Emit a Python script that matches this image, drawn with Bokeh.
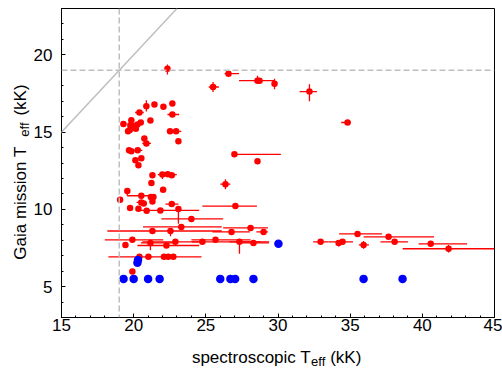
import math
from bokeh.plotting import figure
from bokeh.layouts import row, column
from bokeh.models import SingleIntervalTicker, Span, Slope, Range1d, ColumnDataSource
from bokeh.core.properties import value
from bokeh.embed import file_html
from bokeh.resources import INLINE

# ---- red points (spectroscopic Teff, Gaia Teff) with error-bar bounds, kK ----
red_x = [22.34, 26.57, 28.58, 28.72, 29.76, 25.50, 32.18, 34.82,
         20.88, 21.44, 22.06, 22.68, 22.68, 20.40, 19.84, 19.29, 21.16, 20.49,
         20.26, 20.05, 19.91, 19.73, 19.61, 19.77, 20.15, 22.52, 22.94, 20.74,
         20.88, 23.10, 19.68, 19.84, 20.28, 20.12, 20.53, 20.33, 26.98, 28.58,
         21.30, 21.99, 22.36, 22.64, 21.23, 22.04, 26.36, 19.56, 20.53, 21.19,
         21.37, 19.06, 20.53, 20.70, 21.30, 22.64, 19.75, 20.33, 20.90, 21.85,
         23.10, 24.00, 27.05, 23.30, 28.10, 21.30, 22.55, 26.78, 29.00, 19.43,
         19.91, 21.16, 22.27, 22.89, 24.76, 25.67, 27.33, 28.30, 19.91, 20.40,
         21.02, 22.10, 22.40, 22.75, 32.95, 34.20, 34.47, 35.51, 37.66, 38.08,
         35.93, 40.58, 41.82]
red_y = [19.10, 18.78, 18.33, 18.33, 18.13, 17.92, 17.62, 15.62,
         16.67, 16.78, 16.64, 16.85, 16.14, 16.27, 15.77, 15.52, 15.75, 15.62,
         15.50, 15.39, 15.28, 15.13, 15.05, 15.45, 15.22, 15.05, 15.05, 14.59,
         14.27, 14.40, 13.82, 13.76, 13.82, 13.18, 13.30, 12.86, 13.56, 13.11,
         12.20, 12.25, 12.27, 12.20, 11.70, 11.27, 11.63, 11.18, 10.88, 10.80,
         10.80, 10.62, 10.45, 10.38, 10.51, 10.34, 10.09, 10.04, 9.91, 9.93,
         10.02, 9.38, 10.21, 8.86, 8.80, 8.60, 8.60, 8.54, 8.54, 7.70,
         8.03, 7.83, 7.66, 7.90, 7.90, 8.03, 7.90, 7.83, 5.97, 6.93,
         6.93, 6.93, 6.93, 6.93, 7.90, 7.83, 7.90, 8.41, 8.22, 7.90,
         7.70, 7.77, 7.45]
red_x_lo = [22.20, 26.30, 28.40, 27.30, 29.76, 25.20, 31.50, 34.38,
            20.88, 21.30, 21.90, 22.55, 22.34, 20.10, 19.70, 19.10, 21.00, 20.30,
            20.12, 19.92, 19.78, 19.60, 19.48, 19.64, 20.02, 22.38, 22.70, 20.60,
            20.60, 22.95, 19.55, 19.70, 19.50, 19.98, 20.35, 20.20, 26.98, 28.45,
            21.15, 21.67, 22.22, 22.50, 21.05, 21.85, 26.00, 19.56, 19.56, 21.05,
            21.23, 18.90, 20.20, 20.56, 21.15, 22.20, 19.62, 20.20, 20.76, 20.15,
            23.10, 21.92, 24.76, 20.65, 26.20, 18.18, 22.55, 25.46, 28.50, 19.43,
            18.00, 20.50, 20.26, 20.60, 24.03, 24.00, 26.64, 27.30, 19.91, 20.40,
            18.25, 22.10, 22.40, 22.75, 32.44, 34.05, 33.50, 34.24, 35.93, 37.10,
            35.60, 39.74, 38.64]
red_x_hi = [22.48, 27.30, 28.75, 29.76, 29.76, 25.90, 32.70, 35.05,
            20.88, 21.58, 22.20, 22.80, 23.15, 20.70, 19.98, 19.50, 21.30, 20.70,
            20.40, 20.18, 20.04, 19.86, 19.74, 19.90, 20.28, 22.66, 23.30, 20.88,
            21.20, 23.25, 19.81, 19.98, 20.60, 20.26, 20.70, 20.46, 30.20, 28.72,
            21.45, 22.99, 22.50, 22.78, 21.40, 22.25, 26.70, 19.56, 21.40, 21.33,
            21.51, 19.20, 20.80, 20.84, 21.45, 23.10, 19.88, 20.46, 21.04, 24.54,
            23.10, 26.20, 28.54, 26.10, 29.30, 26.10, 22.55, 28.05, 29.30, 19.43,
            22.05, 22.80, 24.54, 24.50, 28.80, 28.10, 29.39, 29.37, 19.91, 20.40,
            24.70, 22.10, 22.40, 22.75, 33.50, 34.35, 35.20, 37.20, 40.81, 39.00,
            36.30, 43.10, 45.00]
red_y_lo = [18.73, 18.78, 18.13, 18.33, 17.77, 17.60, 17.00, 15.62,
            16.33, 16.70, 16.56, 16.77, 16.14, 16.27, 15.70, 15.52, 15.67, 15.62,
            15.50, 15.39, 15.28, 15.13, 15.05, 15.45, 15.22, 14.97, 15.05, 14.51,
            14.27, 14.32, 13.82, 13.76, 13.82, 13.10, 13.30, 12.78, 13.56, 13.00,
            12.12, 11.97, 12.19, 12.12, 11.62, 11.19, 11.30, 10.88, 10.88, 10.72,
            10.72, 10.62, 10.45, 10.30, 10.43, 10.34, 10.01, 9.96, 9.83, 9.80,
            9.06, 9.38, 10.21, 8.86, 8.80, 8.60, 8.26, 8.54, 8.54, 7.70,
            8.03, 7.36, 7.66, 7.90, 7.90, 8.03, 7.12, 7.83, 5.97, 6.93,
            6.93, 6.93, 6.93, 6.93, 7.90, 7.60, 7.90, 8.41, 8.22, 7.90,
            7.45, 7.77, 7.20]
red_y_hi = [19.38, 18.78, 18.65, 18.33, 18.46, 18.24, 18.10, 15.62,
            17.06, 16.86, 16.72, 16.93, 16.14, 16.27, 15.84, 15.52, 15.83, 15.62,
            15.50, 15.39, 15.28, 15.13, 15.05, 15.45, 15.22, 15.13, 15.05, 14.67,
            14.27, 14.48, 13.82, 13.76, 13.82, 13.26, 13.30, 12.94, 13.56, 13.20,
            12.28, 12.44, 12.35, 12.28, 11.78, 11.35, 11.95, 11.18, 10.88, 10.88,
            10.88, 10.62, 10.45, 10.46, 10.59, 10.34, 10.17, 10.12, 9.99, 10.06,
            10.10, 9.38, 10.34, 8.86, 8.80, 8.60, 8.70, 8.54, 8.54, 7.70,
            8.03, 7.90, 7.66, 7.90, 7.90, 8.03, 7.90, 7.83, 5.97, 6.93,
            6.93, 6.93, 6.93, 6.93, 7.90, 7.90, 7.90, 8.41, 8.22, 7.90,
            7.95, 7.77, 7.70]

# ---- blue points ----
blue_x = [19.30, 20.00, 21.00, 21.80, 26.00, 26.70, 27.03, 28.30, 35.93, 38.63,
          20.26, 20.30, 30.03]
blue_y = [5.50, 5.50, 5.50, 5.50, 5.50, 5.50, 5.50, 5.50, 5.50, 5.50,
          6.55, 6.72, 7.77]

# ---- axes ----
x_lim = (15, 45)
y_lim = (3, 23)
tick_interval = 5
threshold = 19   # kK, dashed reference lines
x_title = ["spectroscopic T", "eff", "(kK)"]
y_title = ["Gaia mission T", "eff", "(kK)"]

FONT = "Liberation Sans"
FS = 17
SUB_FS = 13

FW, FH = 433, 309          # frame size
BL, BR, BT, BB = 28, 8, 8, 23
MAIN_W = BL + FW + BR
MAIN_H = BT + FH + BB
YFIG_W = 30
XFIG_H = 26

p = figure(frame_width=FW, frame_height=FH,
           x_range=Range1d(*x_lim), y_range=Range1d(*y_lim),
           output_backend="svg", toolbar_location=None,
           min_border_left=BL, min_border_right=BR,
           min_border_top=BT, min_border_bottom=BB)
p.xgrid.visible = False
p.ygrid.visible = False
p.outline_line_color = "black"
p.outline_line_width = 1
p.outline_line_alpha = 1

p.xaxis.ticker = SingleIntervalTicker(interval=tick_interval, num_minor_ticks=5)
p.yaxis.ticker = SingleIntervalTicker(interval=tick_interval, num_minor_ticks=5)
for ax in (p.xaxis, p.yaxis):
    ax.major_tick_in = 4
    ax.major_tick_out = 0
    ax.minor_tick_in = 2
    ax.minor_tick_out = 0
    ax.axis_line_color = "black"
    ax.major_tick_line_color = "black"
    ax.minor_tick_line_color = "black"
    ax.major_label_text_font = FONT
    ax.major_label_text_font_size = f"{FS}px"
    ax.major_label_text_color = "black"
p.xaxis.major_label_standoff = 1
p.yaxis.major_label_standoff = 9

# reference lines
p.add_layout(Slope(gradient=1, y_intercept=0, line_color="#bfbfbf", line_width=1.5))
p.add_layout(Span(location=threshold, dimension="height", line_color="#bfbfbf",
                  line_width=1.5, line_dash="6 3"))
p.add_layout(Span(location=threshold, dimension="width", line_color="#bfbfbf",
                  line_width=1.5, line_dash="6 3"))

src = ColumnDataSource(dict(x=red_x, y=red_y, xlo=red_x_lo, xhi=red_x_hi,
                            ylo=red_y_lo, yhi=red_y_hi))
p.segment(x0="xlo", y0="y", x1="xhi", y1="y", source=src, line_color="red", line_width=1.3)
p.segment(x0="x", y0="ylo", x1="x", y1="yhi", source=src, line_color="red", line_width=1.3)
p.scatter(x="x", y="y", source=src, size=6.5, color="red", line_width=0)
p.scatter(blue_x, blue_y, size=8.5, color="blue", line_width=0)


# ---- axis titles (with subscript) drawn in thin text-only figures ----
# (in the layout their frames are aligned with the main frame)
def w(s, fs):
    widths = {"s": .5, "p": .556, "e": .556, "c": .5, "t": .278, "r": .333, "o": .556,
              "i": .222, " ": .278, "T": .611, "f": .278, "(": .333, ")": .333, "k": .5,
              "K": .667, "G": .778, "a": .556, "m": .833, "n": .556}
    return sum(widths.get(ch, .55) for ch in s) * fs


def blank(width, height, xr, yr):
    f = figure(width=width, height=height, x_range=Range1d(0, xr),
               y_range=Range1d(0, yr), min_border=0,
               x_axis_location=None, y_axis_location=None,
               output_backend="svg", toolbar_location=None)
    f.grid.visible = False
    f.outline_line_color = None
    return f


def title_positions(parts, center, sub_gap):
    sizes = [FS, SUB_FS, FS]
    gaps = [sub_gap, w(" ", FS), 0.0]
    total = sum(w(t, s) + g for t, s, g in zip(parts, sizes, gaps))
    pos = center - total / 2
    out = []
    for t, s, g in zip(parts, sizes, gaps):
        out.append(pos)
        pos += w(t, s) + g
    return out


# x title: frame spans the main frame's width
xf = blank(MAIN_W, XFIG_H, FW, XFIG_H)
xs = title_positions(x_title, FW / 2, 1.0)
base_x = 9
xf.text(x=[xs[0], xs[2]], y=[base_x, base_x], text=[x_title[0], x_title[2]],
        text_font=value(FONT), text_font_size=f"{FS}px", text_color="black",
        text_align="left", text_baseline="alphabetic")
xf.text(x=[xs[1]], y=[base_x - 4], text=[x_title[1]],
        text_font=value(FONT), text_font_size=f"{SUB_FS}px", text_color="black",
        text_align="left", text_baseline="alphabetic")

# y title (rotated): frame spans the main frame's height
yf = blank(YFIG_W, MAIN_H, YFIG_W, FH)
ys = title_positions(y_title, FH / 2, -1.5)
base_y = 19.5
yf.text(x=[base_y, base_y], y=[ys[0], ys[2]], text=[y_title[0], y_title[2]],
        angle=math.pi / 2,
        text_font=value(FONT), text_font_size=f"{FS}px", text_color="black",
        text_align="left", text_baseline="alphabetic")
yf.text(x=[base_y + 4], y=[ys[1]], text=[y_title[1]], angle=math.pi / 2,
        text_font=value(FONT), text_font_size=f"{SUB_FS}px", text_color="black",
        text_align="left", text_baseline="alphabetic")

layout = row(yf, column(p, xf))
open("out.html", "w").write(file_html(layout, INLINE))
